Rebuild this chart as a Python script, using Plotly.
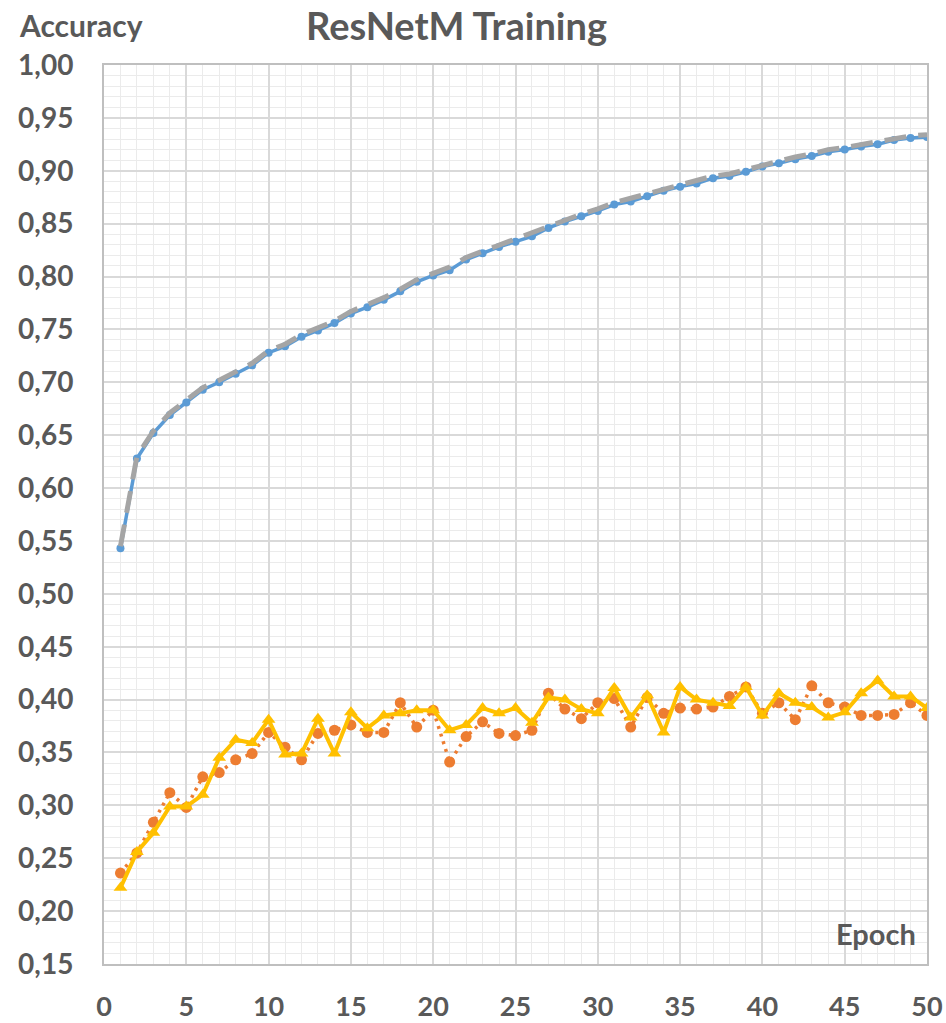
import plotly.graph_objects as go

epochs = list(range(1, 51))

train_acc = [0.543, 0.628, 0.652, 0.669, 0.681, 0.693, 0.700, 0.708, 0.716, 0.728,
             0.734, 0.743, 0.749, 0.756, 0.765, 0.771, 0.778, 0.786, 0.795, 0.801,
             0.806, 0.816, 0.822, 0.828, 0.833, 0.838, 0.846, 0.852, 0.857, 0.862,
             0.868, 0.871, 0.876, 0.881, 0.885, 0.888, 0.893, 0.895, 0.899, 0.904,
             0.907, 0.911, 0.914, 0.918, 0.920, 0.923, 0.925, 0.929, 0.931, 0.932]

train_acc_2 = [0.545, 0.630, 0.654, 0.671, 0.683, 0.695, 0.702, 0.710, 0.718, 0.730,
               0.736, 0.745, 0.751, 0.758, 0.767, 0.773, 0.780, 0.788, 0.797, 0.803,
               0.809, 0.818, 0.824, 0.830, 0.835, 0.841, 0.848, 0.854, 0.859, 0.864,
               0.870, 0.874, 0.878, 0.883, 0.887, 0.890, 0.895, 0.897, 0.901, 0.906,
               0.909, 0.913, 0.916, 0.920, 0.922, 0.925, 0.927, 0.931, 0.933, 0.934]

val_acc = [0.236, 0.255, 0.284, 0.312, 0.298, 0.327, 0.331, 0.343, 0.349, 0.369,
           0.355, 0.343, 0.368, 0.371, 0.376, 0.369, 0.369, 0.397, 0.374, 0.390,
           0.341, 0.365, 0.379, 0.368, 0.366, 0.371, 0.406, 0.391, 0.382, 0.397,
           0.401, 0.374, 0.402, 0.387, 0.392, 0.391, 0.393, 0.403, 0.412, 0.387,
           0.397, 0.381, 0.413, 0.397, 0.393, 0.385, 0.385, 0.386, 0.397, 0.385]

val_acc_2 = [0.222, 0.256, 0.274, 0.299, 0.299, 0.310, 0.345, 0.362, 0.359, 0.381,
             0.348, 0.349, 0.382, 0.349, 0.388, 0.373, 0.385, 0.387, 0.390, 0.390,
             0.371, 0.376, 0.392, 0.387, 0.392, 0.378, 0.402, 0.400, 0.391, 0.387,
             0.411, 0.383, 0.404, 0.369, 0.412, 0.400, 0.397, 0.394, 0.412, 0.385,
             0.406, 0.397, 0.393, 0.383, 0.388, 0.406, 0.418, 0.403, 0.403, 0.392]

x_ticks = list(range(0, 51, 5))
y_ticks = [round(0.15 + 0.05 * i, 2) for i in range(18)]

TXT = "#595959"
FONT = "Lato"

fig = go.Figure()
fig.add_trace(go.Scatter(x=epochs, y=train_acc, mode="lines+markers",
                         line=dict(color="#5B9BD5", width=3.5),
                         marker=dict(symbol="circle", size=8, color="#5B9BD5"),
                         showlegend=False))
fig.add_trace(go.Scatter(x=epochs, y=val_acc, mode="lines+markers",
                         line=dict(color="#ED7D31", width=3.5, dash="3px,5px"),
                         marker=dict(symbol="circle", size=11, color="#ED7D31"),
                         showlegend=False))
fig.add_trace(go.Scatter(x=epochs, y=train_acc_2, mode="lines",
                         line=dict(color="#A5A5A5", width=5, dash="22px,12px"),
                         showlegend=False))
fig.add_trace(go.Scatter(x=epochs, y=val_acc_2, mode="lines+markers",
                         line=dict(color="#FFC000", width=4),
                         marker=dict(symbol="triangle-up", size=12, color="#FFC000"),
                         showlegend=False))

fig.update_layout(
    width=946, height=1023,
    margin=dict(l=104, r=19, t=65, b=59, autoexpand=False),
    paper_bgcolor="white", plot_bgcolor="white",
    separators=",.",
    font=dict(family=FONT, color=TXT),
    showlegend=False,
)

fig.update_xaxes(
    range=[0, 50], tickvals=x_ticks, ticktext=[str(v) for v in x_ticks],
    tickfont=dict(family=FONT, size=27, color=TXT, weight="bold"),
    showgrid=True, gridcolor="#D9D9D9", gridwidth=2,
    minor=dict(dtick=1, showgrid=True, gridcolor="#EBEBEB", gridwidth=1),
    showline=True, mirror=True, linecolor="#BFBFBF", linewidth=2,
    zeroline=False, ticks="outside", ticklen=18, tickcolor="rgba(0,0,0,0)",
    automargin=False,
)
fig.update_yaxes(
    range=[0.15, 1.00], tickvals=y_ticks, tickformat=".2f",
    tickfont=dict(family=FONT, size=28, color=TXT, weight="bold"),
    showgrid=True, gridcolor="#D9D9D9", gridwidth=2,
    minor=dict(dtick=0.01, showgrid=True, gridcolor="#EBEBEB", gridwidth=1),
    showline=True, mirror=True, linecolor="#BFBFBF", linewidth=2,
    zeroline=False, ticks="outside", ticklen=23, tickcolor="rgba(0,0,0,0)",
    automargin=False,
)

fig.add_annotation(text="<b>ResNetM Training</b>", xref="paper", yref="paper",
                   x=0.428, y=1.045, xanchor="center", yanchor="middle",
                   showarrow=False, font=dict(family=FONT, size=38, color=TXT))
fig.add_annotation(text="<b>Accuracy</b>", xref="paper", yref="paper",
                   x=-0.1057, y=1.0445, xanchor="left", yanchor="middle",
                   showarrow=False, font=dict(family=FONT, size=30, color=TXT))
fig.add_annotation(text="<b>Epoch</b>", xref="paper", yref="paper",
                   x=0.989, y=0.0334, xanchor="right", yanchor="middle",
                   showarrow=False, font=dict(family=FONT, size=29, color=TXT))

fig.write_html(
    "out.html",
    config={"displayModeBar": False},
    post_script="document.body.style.margin='0';document.body.style.overflow='hidden';",
)
